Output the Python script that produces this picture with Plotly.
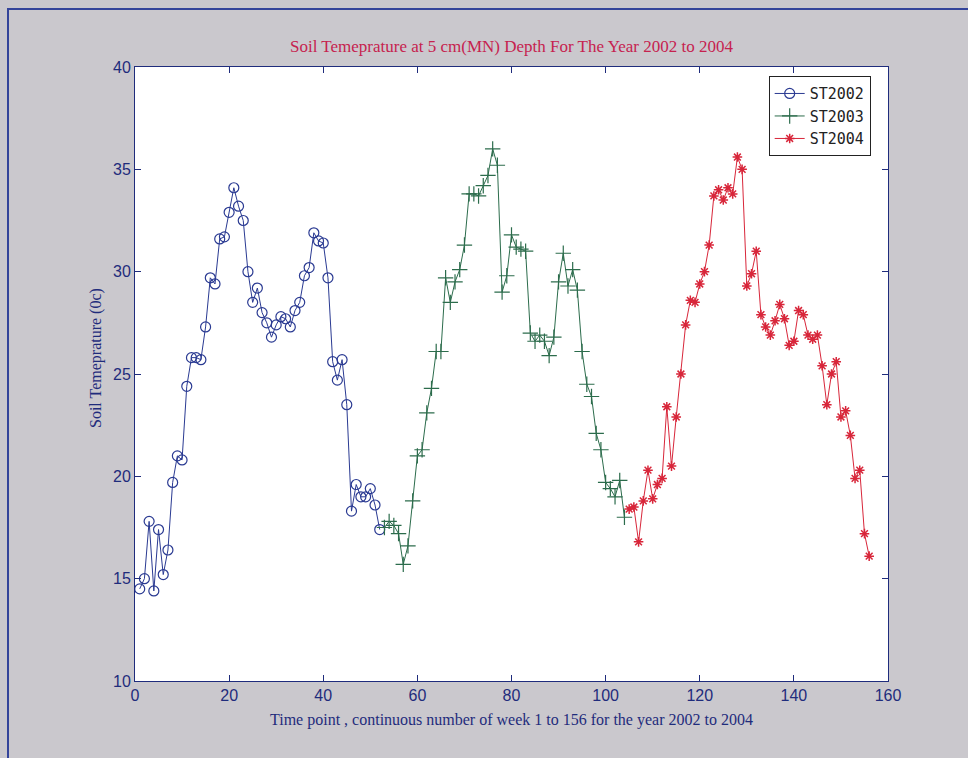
import plotly.graph_objects as go

# Weekly soil temperature at 5 cm depth, weeks numbered continuously 1..156
weeks_2002 = list(range(1, 53))
weeks_2003 = list(range(53, 105))
weeks_2004 = list(range(105, 157))

st2002 = [14.5, 15.0, 17.8, 14.4, 17.4, 15.2, 16.4, 19.7, 21.0, 20.8,
          24.4, 25.8, 25.8, 25.7, 27.3, 29.7, 29.4, 31.6, 31.7, 32.9,
          34.1, 33.2, 32.5, 30.0, 28.5, 29.2, 28.0, 27.5, 26.8, 27.4,
          27.8, 27.7, 27.3, 28.1, 28.5, 29.8, 30.2, 31.9, 31.5, 31.4,
          29.7, 25.6, 24.7, 25.7, 23.5, 18.3, 19.6, 19.0, 19.0, 19.4,
          18.6, 17.4]

st2003 = [17.5, 17.8, 17.6, 17.2, 15.7, 16.6, 18.8, 21.0, 21.3, 23.1,
          24.3, 26.1, 26.1, 29.7, 28.5, 29.5, 30.1, 31.3, 33.8, 33.8,
          33.7, 34.2, 34.7, 36.0, 35.2, 29.0, 29.8, 31.8, 31.2, 31.1,
          31.0, 27.0, 26.6, 26.9, 26.6, 25.9, 26.8, 29.5, 30.9, 29.3,
          30.1, 29.1, 26.1, 24.5, 23.9, 22.1, 21.3, 19.7, 19.4, 19.0,
          19.8, 18.0]

st2004 = [18.4, 18.5, 16.8, 18.8, 20.3, 18.9, 19.6, 19.9, 23.4, 20.5,
          22.9, 25.0, 27.4, 28.6, 28.5, 29.4, 30.0, 31.3, 33.7, 34.0,
          33.5, 34.1, 33.8, 35.6, 35.0, 29.3, 29.9, 31.0, 27.9, 27.3,
          26.9, 27.6, 28.4, 27.7, 26.4, 26.6, 28.1, 27.9, 26.9, 26.7,
          26.9, 25.4, 23.5, 25.0, 25.6, 22.9, 23.2, 22.0, 19.9, 20.3,
          17.2, 16.1]

NAVY = "#1f2c7c"
BLUE = "#2a3a92"
GREEN = "#2c6c4c"
RED = "#d8263a"
TICK_FONT = "Liberation Sans Narrow, Arial Narrow, Liberation Sans, sans-serif"
SERIF = "Liberation Serif, Times New Roman, serif"

fig = go.Figure()
fig.add_trace(go.Scatter(
    x=weeks_2002, y=st2002, name="ST2002", mode="lines+markers",
    line=dict(color=BLUE, width=1),
    marker=dict(symbol="circle-open", size=10, color=BLUE, line=dict(width=1.2)),
))
fig.add_trace(go.Scatter(
    x=weeks_2003, y=st2003, name="ST2003", mode="lines+markers",
    line=dict(color=GREEN, width=1),
    marker=dict(symbol="cross-thin-open", size=11, color=GREEN, line=dict(width=1.2, color=GREEN)),
))
fig.add_trace(go.Scatter(
    x=weeks_2004, y=st2004, name="ST2004", mode="lines+markers",
    line=dict(color=RED, width=1),
    marker=dict(symbol="asterisk-open", size=8, color=RED, line=dict(width=1.5, color=RED)),
))

axis_common = dict(
    showline=True, linecolor=NAVY, linewidth=1, mirror="ticks",
    ticks="inside", ticklen=6, tickcolor=NAVY, tickwidth=1,
    showgrid=False, zeroline=False,
    tickfont=dict(family=TICK_FONT, size=16, color=NAVY),
)

fig.update_xaxes(range=[0, 160], dtick=20, tick0=0, **axis_common)
fig.update_yaxes(range=[10, 40], dtick=5, tick0=10, **axis_common)

fig.update_layout(
    width=968, height=758,
    margin=dict(l=135, r=80, t=67, b=77),
    paper_bgcolor="#cac8cd",
    plot_bgcolor="white",
    title=dict(
        text="Soil Temeprature at 5 cm(MN) Depth For The Year 2002 to 2004",
        font=dict(family=SERIF, size=17, color="#c6224f"),
        x=0.5, xref="paper", y=1 - 46 / 758, yref="container", yanchor="middle",
    ),
    legend=dict(
        x=0.977, y=0.985, xanchor="right", yanchor="top",
        bgcolor="white", bordercolor="#222222", borderwidth=1,
        font=dict(family="DejaVu Sans Mono, monospace", size=15, color="#222222"),
        tracegroupgap=0, itemwidth=30,
    ),
    annotations=[
        dict(text="Time point , continuous number of week 1 to 156 for the year 2002 to 2004",
             xref="paper", yref="paper", x=0.5, y=-39 / 614, xanchor="center", yanchor="middle",
             showarrow=False, font=dict(family=SERIF, size=16, color=NAVY)),
        dict(text="Soil Temeprature (0c)",
             xref="paper", yref="paper", x=(96 - 135) / 753, y=(681 - 358) / 614,
             xanchor="center", yanchor="middle", textangle=-90,
             showarrow=False, font=dict(family=SERIF, size=16, color=NAVY)),
    ],
    shapes=[
        dict(type="rect", xref="paper", yref="paper",
             x0=(8 - 135) / 753, x1=1.2, y0=-0.3, y1=1 + (67 - 9) / 614,
             line=dict(color="#34449a", width=2), fillcolor="rgba(0,0,0,0)", layer="below"),
    ],
)

fig.write_html("out.html")
